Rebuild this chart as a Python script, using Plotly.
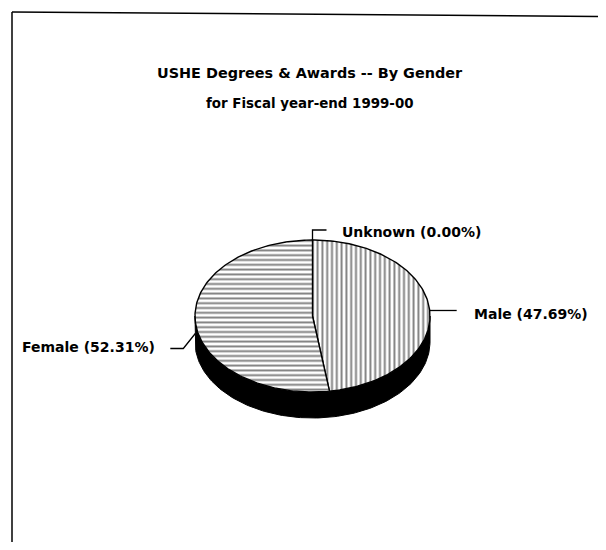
import numpy as np
import plotly.graph_objects as go

# ---- data ----
categories = ["Unknown", "Male", "Female"]
shares = [0.00, 47.69, 52.31]
title_line1 = "USHE Degrees & Awards -- By Gender"
title_line2 = "for Fiscal year-end 1999-00"

# ---- geometry / style (page pixel space) ----
W, H = 606, 550
BODY = 8  # default page body margin of the written html
CX, CY = 312.5, 316
A, B = 117.5, 76
DEPTH = 26
FONT = "DejaVu Sans, Arial, sans-serif"
patterns = {"Male": "|", "Female": "-", "Unknown": "/"}


def ell(theta_deg, dy=0.0):
    t = np.radians(theta_deg)
    return CX + A * np.sin(t), CY - B * np.cos(t) + dy


fig = go.Figure()

# side (depth) of the tilted pie: visible from 90 to 270 degrees
th = np.linspace(90, 270, 140)
xt, yt = ell(th)
xb, yb = ell(th[::-1], DEPTH)
fig.add_trace(go.Scatter(x=np.concatenate([xt, xb, xt[:1]]),
                         y=np.concatenate([yt, yb, yt[:1]]),
                         fill="toself", fillcolor="black", mode="lines",
                         line=dict(color="black", width=1), hoverinfo="skip",
                         showlegend=False))

# top faces of the slices
total = sum(shares)
start = 0.0
mids = {}
for cat, val in zip(categories, shares):
    span = 360.0 * val / total
    end = start + span
    mids[cat] = start + span / 2
    if span > 0:
        th = np.linspace(start, end, max(3, int(span)))
        xs, ys = ell(th)
        xs = np.concatenate([[CX], xs, [CX]])
        ys = np.concatenate([[CY], ys, [CY]])
        fig.add_trace(go.Scatter(x=xs, y=ys, fill="toself", mode="lines",
                                 fillcolor="white",
                                 fillpattern=dict(shape=patterns[cat], size=4.8,
                                                  solidity=0.4, fgcolor="black",
                                                  bgcolor="white"),
                                 line=dict(color="black", width=1.4),
                                 name=cat, hoverinfo="skip", showlegend=False))
    start = end

# labels with leader lines
for cat, val in zip(categories, shares):
    label = f"{cat} ({val:.2f}%)"
    m = mids[cat]
    ax_, ay_ = ell(m)
    if cat == "Unknown":
        lx = [ax_, ax_, ax_ + 14]
        ly = [ay_, ay_ - 10, ay_ - 10]
        tx, ty, anchor = ax_ + 27, ay_ - 8, "left"
    elif cat == "Male":
        lx = [ax_, ax_ + 27]
        ly = [ay_, ay_]
        tx, ty, anchor = ax_ + 42, ay_ + 3.5, "left"
    else:
        ax_, ay_ = ell(m, 12)
        lx = [ax_, ax_ - 12, ax_ - 25]
        ly = [ay_, ay_ + 15, ay_ + 15]
        tx, ty, anchor = ax_ - 38, ay_ + 13, "right"
    fig.add_trace(go.Scatter(x=lx, y=ly, mode="lines",
                             line=dict(color="black", width=1.3),
                             hoverinfo="skip", showlegend=False))
    fig.add_annotation(x=tx, y=ty, text=f"<b>{label}</b>", showarrow=False,
                       xanchor=anchor, yanchor="middle",
                       font=dict(family=FONT, size=14, color="black"))

# titles
fig.add_annotation(x=310, y=73, text=f"<b>{title_line1}</b>", showarrow=False,
                   xanchor="center", yanchor="middle",
                   font=dict(family=FONT, size=14.4, color="black"))
fig.add_annotation(x=310, y=103, text=f"<b>{title_line2}</b>", showarrow=False,
                   xanchor="center", yanchor="middle",
                   font=dict(family=FONT, size=13.4, color="black"))

# scanned page frame
fig.add_shape(type="line", x0=12, y0=12, x1=12, y1=548,
              line=dict(color="black", width=1.5))
fig.add_shape(type="line", x0=12, y0=12, x1=606, y1=16.5,
              line=dict(color="black", width=1.5))
fig.add_shape(type="line", x0=12, y0=548, x1=22, y1=548,
              line=dict(color="#999999", width=1))

fig.update_layout(width=W - 2 * BODY, height=H - 2 * BODY,
                  margin=dict(l=0, r=0, t=0, b=0),
                  paper_bgcolor="white", plot_bgcolor="white",
                  xaxis=dict(range=[BODY, W - BODY], visible=False, fixedrange=True),
                  yaxis=dict(range=[H - BODY, BODY], visible=False, fixedrange=True))

fig.write_html("out.html")
